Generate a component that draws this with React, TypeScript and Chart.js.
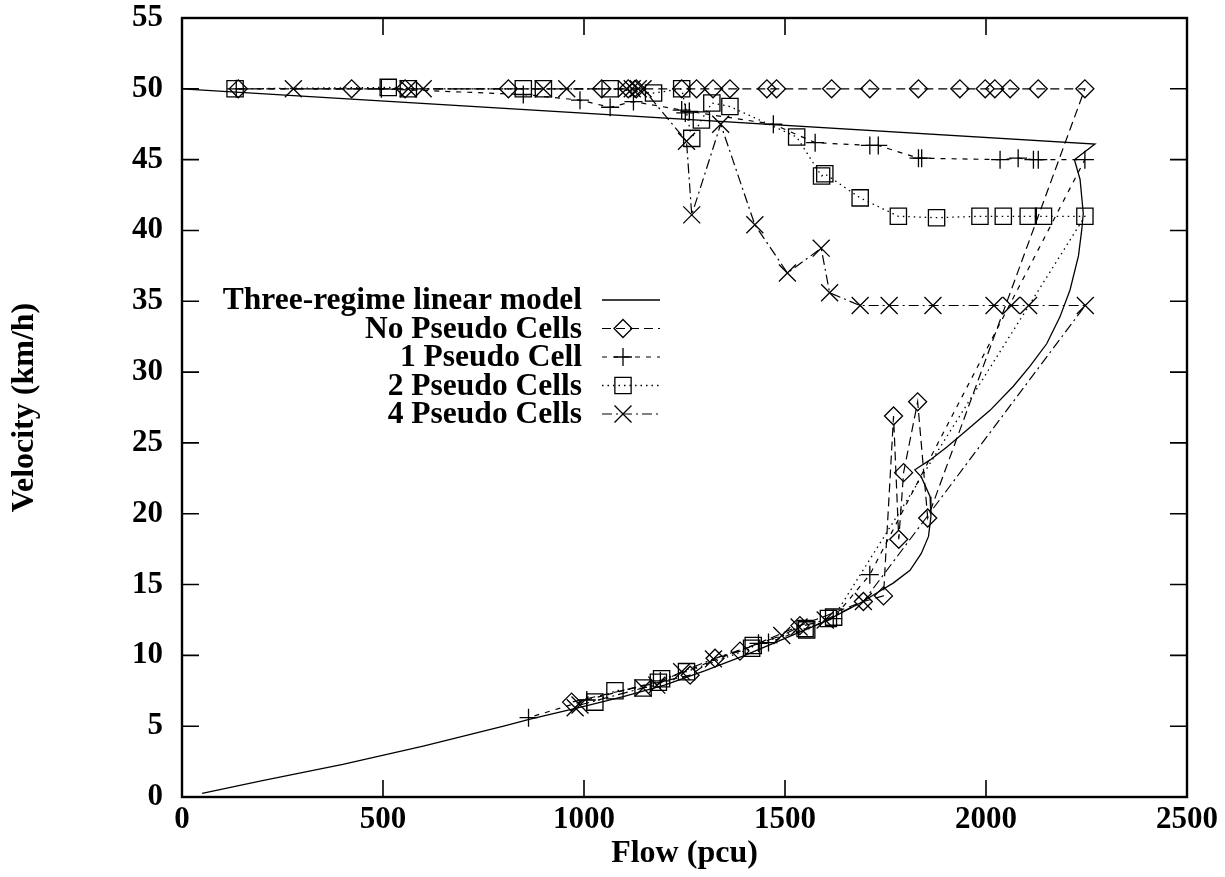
import React, { useEffect, useRef } from "react";
import { Chart, registerables } from "chart.js";

Chart.register(...registerables);

// ---------- axis ticks ----------
const xTickValues = [0, 500, 1000, 1500, 2000, 2500];
const xTickLabels = ["0", "500", "1000", "1500", "2000", "2500"];
const yTickValues = [0, 5, 10, 15, 20, 25, 30, 35, 40, 45, 50, 55];
const yTickLabels = ["0", "5", "10", "15", "20", "25", "30", "35", "40", "45", "50", "55"];

// ---------- series labels ----------
const seriesLabels = [
  "Three-regime linear model",
  "No Pseudo Cells",
  "1 Pseudo Cell",
  "2 Pseudo Cells",
  "4 Pseudo Cells",
];

// ---------- Three-regime linear model ----------
const modelFlow = [0, 2271, 2220, 2234, 2242, 2238, 2230, 2209, 2184, 2151, 2109, 2068, 2010, 1952, 1902, 1861, 1823,
  1839, 1861, 1863, 1857, 1839, 1811, 1769, 1728, 1694, 1600, 1500, 1400, 1300, 1200, 1100, 1000, 866, 800, 600, 400, 200, 50];
const modelVel = [50, 46.1, 45.0, 43.6, 41.2, 40.0, 38.2, 35.8, 33.9, 32.0, 30.4, 29.0, 27.3, 25.9, 24.7, 23.8, 23.1,
  22.6, 21.2, 19.8, 18.4, 17.2, 16.0, 15.1, 14.4, 13.8, 12.4, 11.2, 10.0, 8.9, 7.9, 7.1, 6.4, 5.5, 5.0, 3.6, 2.3, 1.15, 0.25];

// ---------- No Pseudo Cells ----------
const noFlow = [140, 422, 555, 812, 1044, 1110, 1130, 1243, 1280, 1321, 1363, 1455, 1479, 1616, 1711, 1832, 1935, 1998, 2022, 2060, 2130, 2246,
  1855, 1830, 1795, 1783, 1770, 1745, 1695, 1537, 1388, 1326, 1264, 969];
const noVel = [50, 50, 50, 50, 50, 50, 50, 50, 50, 50, 50, 50, 50, 50, 50, 50, 50, 50, 50, 50, 50, 50,
  19.7, 27.9, 22.9, 18.2, 26.9, 14.2, 13.8, 12.1, 10.3, 9.8, 8.6, 6.7];

// ---------- 1 Pseudo Cell ----------
const oneFlow = [135, 496, 849, 990, 1065, 1123, 1243, 1252, 1262, 1471, 1575, 1711, 1732, 1832, 1840, 2035, 2080, 2118, 2130, 2246,
  1711, 1620, 1459, 1434, 1190, 1007, 862];
const oneVel = [50, 50, 49.6, 49.2, 48.7, 49.1, 48.5, 48.3, 48.4, 47.5, 46.2, 46.0, 46.0, 45.1, 45.1, 45.0, 45.1, 45.0, 45.0, 45.0,
  15.7, 12.6, 10.9, 10.85, 8.2, 6.85, 5.6];

// ---------- 2 Pseudo Cells ----------
const twoFlow = [132, 513, 563, 849, 899, 1065, 1173, 1243, 1268, 1292, 1318, 1363, 1529, 1591, 1599, 1687, 1782, 1877, 1985, 2043, 2105, 2143, 2246,
  1621, 1608, 1554, 1550, 1421, 1417, 1255, 1193, 1185, 1147, 1077, 1027];
const twoVel = [50, 50.1, 50, 50, 50, 50, 49.7, 50, 46.5, 47.8, 49.0, 48.75, 46.6, 43.85, 44.0, 42.3, 41.0, 40.9, 41, 41, 41, 41, 41,
  12.7, 12.6, 11.8, 11.9, 10.7, 10.5, 8.85, 8.35, 8.1, 7.7, 7.5, 6.7];

// ---------- 4 Pseudo Cells ----------
const fourFlow = [277, 563, 600, 899, 957, 1106, 1120, 1135, 1147, 1255, 1268, 1340, 1425, 1506, 1590, 1611, 1687, 1759, 1868, 2020, 2063, 2106, 2247,
  1695, 1600, 1535, 1492, 1322, 1243, 1181, 1147, 990, 978];
const fourVel = [50, 50, 50, 50, 50, 50, 50, 50, 50, 46.3, 41.1, 47.5, 40.4, 37.0, 38.75, 35.6, 34.7, 34.7, 34.7, 34.7, 34.7, 34.7, 34.7,
  13.8, 12.5, 12.0, 11.4, 9.75, 8.85, 7.9, 7.7, 6.5, 6.3];

const toPoints = (xs: number[], ys: number[]) => xs.map((x, i) => ({ x, y: ys[i] }));

const FONT = "'Liberation Serif', 'Times New Roman', serif";

function drawMarker(ctx: CanvasRenderingContext2D, style: string, r: number, x: number, y: number) {
  ctx.beginPath();
  if (style === "rectRot") {
    ctx.moveTo(x - r, y);
    ctx.lineTo(x, y - r);
    ctx.lineTo(x + r, y);
    ctx.lineTo(x, y + r);
    ctx.closePath();
  } else if (style === "cross") {
    ctx.moveTo(x - r, y);
    ctx.lineTo(x + r, y);
    ctx.moveTo(x, y - r);
    ctx.lineTo(x, y + r);
  } else if (style === "rect") {
    const s = Math.SQRT1_2 * r;
    ctx.rect(x - s, y - s, 2 * s, 2 * s);
  } else if (style === "crossRot") {
    const s = Math.SQRT1_2 * r;
    ctx.moveTo(x - s, y - s);
    ctx.lineTo(x + s, y + s);
    ctx.moveTo(x - s, y + s);
    ctx.lineTo(x + s, y - s);
  }
  ctx.stroke();
}

const framePlugin = {
  id: "gnuplotFrame",
  afterDraw(chart: any) {
    const { ctx, chartArea: a, scales } = chart;
    ctx.save();
    ctx.strokeStyle = "#000";
    ctx.setLineDash([]);
    const L = 17;
    ctx.lineWidth = 1.6;
    scales.x.ticks.forEach((t: any) => {
      const px = scales.x.getPixelForValue(t.value);
      ctx.beginPath();
      ctx.moveTo(px, a.bottom);
      ctx.lineTo(px, a.bottom - L);
      ctx.moveTo(px, a.top);
      ctx.lineTo(px, a.top + L);
      ctx.stroke();
    });
    scales.y.ticks.forEach((t: any) => {
      const py = scales.y.getPixelForValue(t.value);
      ctx.beginPath();
      ctx.moveTo(a.left, py);
      ctx.lineTo(a.left + L, py);
      ctx.moveTo(a.right, py);
      ctx.lineTo(a.right - L, py);
      ctx.stroke();
    });
    ctx.lineWidth = 2.4;
    ctx.strokeRect(a.left, a.top, a.right - a.left, a.bottom - a.top);

    // key (gnuplot style)
    const textRight = a.left + 400;
    const lineStart = a.left + 420;
    const lineEnd = a.left + 478;
    const markX = a.left + 441;
    chart.data.datasets.forEach((ds: any, i: number) => {
      const y = a.top + 282 + i * 28.5;
      ctx.fillStyle = "#000";
      ctx.font = `bold 31.5px ${FONT}`;
      ctx.textAlign = "right";
      ctx.textBaseline = "middle";
      ctx.fillText(ds.label, textRight, y + 1);
      ctx.lineWidth = ds.borderWidth;
      ctx.setLineDash(ds.borderDash || []);
      ctx.beginPath();
      ctx.moveTo(lineStart, y);
      ctx.lineTo(lineEnd, y);
      ctx.stroke();
      ctx.setLineDash([]);
      if (ds.pointRadius > 0) {
        ctx.lineWidth = ds.pointBorderWidth;
        drawMarker(ctx, ds.pointStyle, ds.pointRadius, markX, y);
      }
    });
    ctx.restore();
  },
};

export default function App() {
  const canvasRef = useRef<HTMLCanvasElement | null>(null);

  useEffect(() => {
    if (!canvasRef.current) return;
    const common = {
      showLine: true,
      fill: false,
      tension: 0,
      borderColor: "#000",
      pointBorderColor: "#000",
      pointBackgroundColor: "rgba(0,0,0,0)",
      pointBorderWidth: 1.3,
      pointHoverRadius: 0,
    };
    const chart = new Chart(canvasRef.current, {
      type: "scatter",
      data: {
        datasets: [
          { ...common, label: seriesLabels[0], data: toPoints(modelFlow, modelVel), borderWidth: 1.3, pointRadius: 0, pointStyle: "circle" },
          { ...common, label: seriesLabels[1], data: toPoints(noFlow, noVel), borderWidth: 1.2, borderDash: [9, 5], pointStyle: "rectRot", pointRadius: 9 },
          { ...common, label: seriesLabels[2], data: toPoints(oneFlow, oneVel), borderWidth: 1.2, borderDash: [5, 6], pointStyle: "cross", pointRadius: 9 },
          { ...common, label: seriesLabels[3], data: toPoints(twoFlow, twoVel), borderWidth: 1.3, borderDash: [1.5, 4], pointStyle: "rect", pointRadius: 11.5 },
          { ...common, label: seriesLabels[4], data: toPoints(fourFlow, fourVel), borderWidth: 1.2, borderDash: [10, 4, 2, 4], pointStyle: "crossRot", pointRadius: 12 },
        ],
      } as any,
      options: {
        animation: false,
        responsive: true,
        maintainAspectRatio: false,
        layout: { padding: { left: 2, right: 38, top: 18, bottom: 0 } },
        plugins: { legend: { display: false }, tooltip: { enabled: false } },
        events: [],
        scales: {
          x: {
            type: "linear",
            min: 0,
            max: 2500,
            grid: { display: false, drawTicks: false },
            border: { display: false },
            afterBuildTicks: (scale: any) => {
              scale.ticks = xTickValues.map((v) => ({ value: v }));
            },
            afterFit: (scale: any) => {
              scale.height = 80;
              scale.paddingLeft = 0;
              scale.paddingRight = 0;
            },
            ticks: {
              color: "#000",
              padding: 6,
              maxRotation: 0,
              autoSkip: false,
              font: { family: FONT, size: 31, weight: "bold", lineHeight: 1.1 },
              callback: (_v: any, i: number) => xTickLabels[i],
            },
            title: {
              display: true,
              text: "Flow (pcu)",
              color: "#000",
              padding: { top: 4, bottom: 4 },
              font: { family: FONT, size: 32, weight: "bold", lineHeight: 1.2 },
            },
          },
          y: {
            type: "linear",
            min: 0,
            max: 55,
            grid: { display: false, drawTicks: false },
            border: { display: false },
            afterBuildTicks: (scale: any) => {
              scale.ticks = yTickValues.map((v) => ({ value: v }));
            },
            afterFit: (scale: any) => {
              scale.width = 180;
              scale.paddingTop = 0;
              scale.paddingBottom = 0;
            },
            ticks: {
              color: "#000",
              padding: 19,
              autoSkip: false,
              font: { family: FONT, size: 31, weight: "bold", lineHeight: 1.1 },
              callback: (_v: any, i: number) => yTickLabels[i],
            },
            title: {
              display: true,
              text: "Velocity (km/h)",
              color: "#000",
              padding: { top: 4, bottom: 4 },
              font: { family: FONT, size: 32, weight: "bold", lineHeight: 1.2 },
            },
          },
        },
      } as any,
      plugins: [framePlugin],
    });
    return () => chart.destroy();
  }, []);

  return (
    <div style={{ position: "absolute", left: 0, top: 0, width: 1225, height: 877, background: "#fff" }}>
      <canvas ref={canvasRef} />
    </div>
  );
}
